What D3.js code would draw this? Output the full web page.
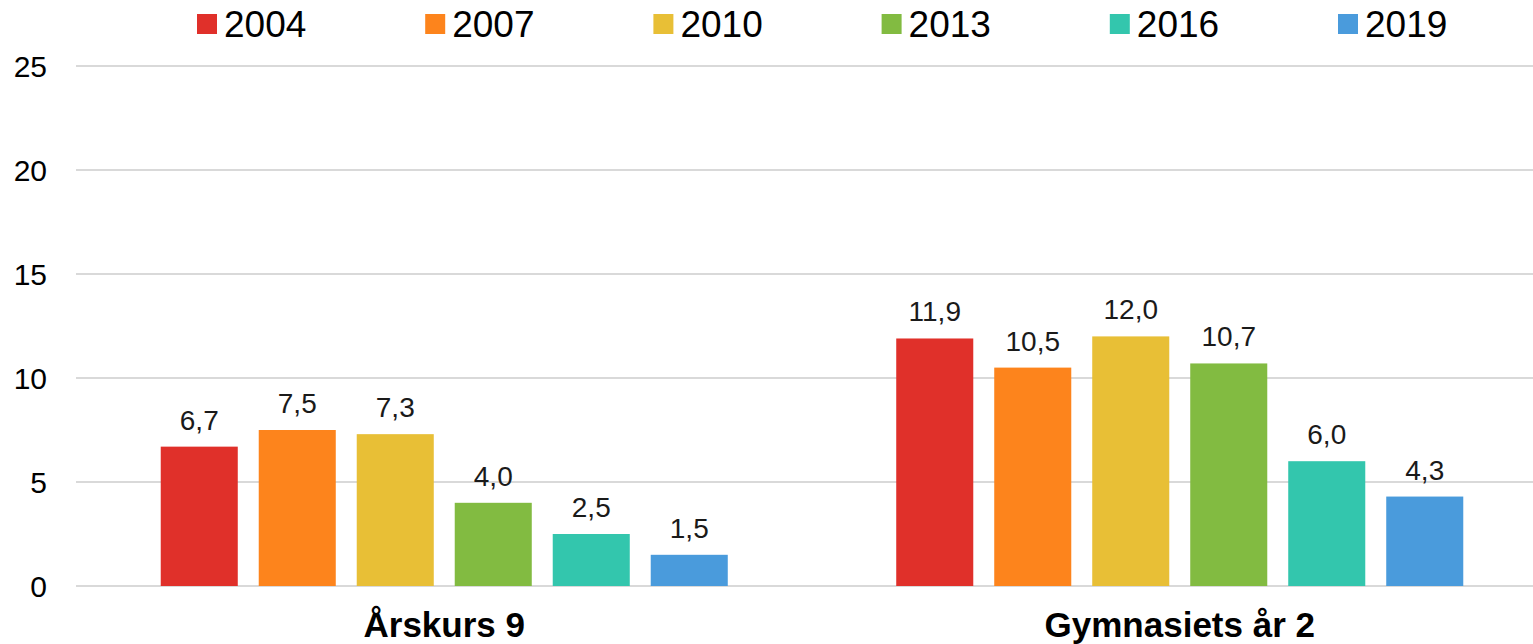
<!DOCTYPE html>
<html>
<head>
<meta charset="utf-8">
<script src="https://cdn.jsdelivr.net/npm/d3@7"></script>
<style>
body { margin: 0; background: #fff; }
svg { display: block; font-family: "Liberation Sans", Arial, sans-serif; }
.grid line { stroke: #d9d9d9; stroke-width: 2; }
.tick-label { font-size: 30px; fill: #000; }
.value-label { font-size: 28px; fill: #1a1a1a; }
.cat-label { font-size: 35px; font-weight: bold; fill: #000; }
.legend text { font-size: 37px; fill: #000; }
</style>
</head>
<body>
<svg id="chart"></svg>
<script>
var width = 1533;
var height = 644;

var categories = ["Årskurs 9", "Gymnasiets år 2"];
var years = ["2004", "2007", "2010", "2013", "2016", "2019"];
var colors = ["#e0302a", "#fd841c", "#e8bf36", "#82bb41", "#33c6ad", "#4a9bdc"];
var values = {
	"Årskurs 9":       [6.7, 7.5, 7.3, 4.0, 2.5, 1.5],
	"Gymnasiets år 2": [11.9, 10.5, 12.0, 10.7, 6.0, 4.3]
};
var yTicks = [0, 5, 10, 15, 20, 25];

var plotLeft = 76;
var plotRight = 1547;   // chart runs a little past the window edge
var yTop = 66;
var yBottom = 586;
var labelGap = 17;

var locale = d3.formatLocale({ decimal: ",", thousands: " ", grouping: [3], currency: ["", " kr"] });
var fmt = locale.format(".1f");

var svg = d3.select("#chart")
	.attr("width", width)
	.attr("height", height);

var x0 = d3.scaleBand()
	.domain(categories)
	.range([plotLeft, plotRight]);

// inner band: step 98, bar 77
var x1 = d3.scaleBand()
	.domain(years)
	.range([74.25, 662.25])
	.paddingInner(0.214)
	.paddingOuter(0.107);

var y = d3.scaleLinear()
	.domain([0, 25])
	.range([yBottom, yTop]);

var color = d3.scaleOrdinal().domain(years).range(colors);

function drawGrid() {
	var g = svg.append("g").attr("class", "grid");
	g.selectAll("line").data(yTicks).enter()
	.append("line")
	.attr("x1", plotLeft)
	.attr("x2", plotRight)
	.attr("y1", function(d) { return y(d); })
	.attr("y2", function(d) { return y(d); });

	svg.append("g").selectAll("text").data(yTicks).enter()
	.append("text")
	.attr("class", "tick-label")
	.attr("x", 47)
	.attr("y", function(d) { return y(d); })
	.attr("dy", "0.36em")
	.attr("text-anchor", "end")
	.text(function(d) { return d; });
}

function drawBars() {
	var groups = svg.append("g").selectAll("g").data(categories).enter()
	.append("g")
	.attr("transform", function(d) { return "translate(" + x0(d) + ",0)"; });

	var rows = function(c) {
		return years.map(function(yr, i) { return { year: yr, value: values[c][i] }; });
	};

	groups.selectAll("rect").data(rows).enter()
	.append("rect")
	.attr("x", function(d) { return x1(d.year); })
	.attr("width", x1.bandwidth())
	.attr("y", function(d) { return y(d.value); })
	.attr("height", function(d) { return y(0) - y(d.value); })
	.attr("fill", function(d) { return color(d.year); });

	groups.selectAll("text").data(rows).enter()
	.append("text")
	.attr("class", "value-label")
	.attr("x", function(d) { return x1(d.year) + x1.bandwidth() / 2; })
	.attr("y", function(d) { return y(d.value) - labelGap; })
	.attr("text-anchor", "middle")
	.text(function(d) { return fmt(d.value); });

	svg.append("g").selectAll("text").data(categories).enter()
	.append("text")
	.attr("class", "cat-label")
	.attr("x", function(d) { return x0(d) + x1(years[0]) + (x1(years[5]) + x1.bandwidth() - x1(years[0])) / 2; })
	.attr("y", 637)
	.attr("text-anchor", "middle")
	.text(function(d) { return d; });
}

function drawLegend() {
	var legendX = d3.scalePoint().domain(years).range([197, 1338]);
	var item = svg.append("g").attr("class", "legend")
	.selectAll("g").data(years).enter()
	.append("g")
	.attr("transform", function(d) { return "translate(" + legendX(d) + ",0)"; });

	item.append("rect")
	.attr("y", 14)
	.attr("width", 20)
	.attr("height", 20)
	.attr("fill", function(d) { return color(d); });

	item.append("text")
	.attr("x", 27)
	.attr("y", 37)
	.text(function(d) { return d; });
}

drawGrid();
drawBars();
drawLegend();
</script>
</body>
</html>
